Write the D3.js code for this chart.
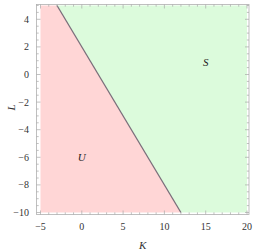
<!DOCTYPE html>
<html><head><meta charset="utf-8">
<script src="https://cdn.jsdelivr.net/npm/d3@7"></script>
<style>html,body{margin:0;padding:0;background:#fff;}svg{display:block;}</style>
</head><body>
<script>
const xDomain = [-5, 20];
const yDomain = [-10, 5];
const xTicks = [-5, 0, 5, 10, 15, 20];
const yTicks = [-10, -8, -6, -4, -2, 0, 2, 4];
// boundary line L = 2 - K
const boundaryK = [-3, 12];
const boundaryL = [5, -10];
const regionNames = ["U", "S"];
const regionLabelK = [0, 15];
const regionLabelL = [-6, 0.9];
const axisTitles = ["K", "L"];

const W = 253, H = 251;
const svg = d3.select("body").append("svg").attr("width", W).attr("height", H);
const x = d3.scaleLinear().domain(xDomain).range([40.5, 247]);
const y = d3.scaleLinear().domain(yDomain).range([212.5, 5.5]);
const frame = {l: 36.5, r: 249, t: 4.5, b: 214.5};

const font = "'Liberation Serif','DejaVu Serif',serif";

// regions
const uPoly = [[xDomain[0], yDomain[1]], [boundaryK[0], boundaryL[0]], [boundaryK[1], boundaryL[1]], [xDomain[0], yDomain[0]]];
const sPoly = [[boundaryK[0], boundaryL[0]], [xDomain[1], yDomain[1]], [xDomain[1], yDomain[0]], [boundaryK[1], boundaryL[1]]];
const line = d3.line().x(d => x(d[0])).y(d => y(d[1]));
svg.append("path").attr("d", line(uPoly) + "Z").attr("fill", "#ffd6d6");
svg.append("path").attr("d", line(sPoly) + "Z").attr("fill", "#dcfbdc");
svg.append("path").attr("d", line(boundaryK.map((k, i) => [k, boundaryL[i]])))
  .attr("stroke", "#7a6e7a").attr("stroke-width", 1.3).attr("fill", "none");

// frame
svg.append("rect").attr("x", frame.l).attr("y", frame.t)
  .attr("width", frame.r - frame.l).attr("height", frame.b - frame.t)
  .attr("fill", "none").attr("stroke", "#b0b0b0").attr("stroke-width", 0.8);

const tickCol = "#a8a8a8";
const g = svg.append("g").attr("stroke", tickCol).attr("stroke-width", 0.7);
// x ticks
const xMinor = d3.range(xDomain[0], xDomain[1] + 0.01, 1);
xMinor.forEach(v => {
  const major = xTicks.includes(v);
  const len = major ? 4 : 2.2;
  const px = x(v);
  g.append("line").attr("x1", px).attr("x2", px).attr("y1", frame.b).attr("y2", frame.b - len);
  g.append("line").attr("x1", px).attr("x2", px).attr("y1", frame.t).attr("y2", frame.t + len);
});
const yMinor = d3.range(yDomain[0], yDomain[1] + 0.01, 0.5);
yMinor.forEach(v => {
  const major = yTicks.includes(v);
  const len = major ? 4 : 2.2;
  const py = y(v);
  g.append("line").attr("y1", py).attr("y2", py).attr("x1", frame.l).attr("x2", frame.l + len);
  g.append("line").attr("y1", py).attr("y2", py).attr("x1", frame.r).attr("x2", frame.r - len);
});

const fmt = v => (v < 0 ? "\u2212" + Math.abs(v) : String(v));
svg.append("g").selectAll("text").data(xTicks).join("text")
  .attr("x", d => x(d)).attr("y", 230).attr("text-anchor", "middle")
  .attr("font-family", font).attr("font-size", 10).attr("fill", "#333").text(fmt);
svg.append("g").selectAll("text").data(yTicks).join("text")
  .attr("x", 29).attr("y", d => y(d) + 3.5).attr("text-anchor", "end")
  .attr("font-family", font).attr("font-size", 10).attr("fill", "#333").text(fmt);

// region labels
svg.append("g").selectAll("text").data(regionNames).join("text")
  .attr("x", (d, i) => x(regionLabelK[i])).attr("y", (d, i) => y(regionLabelL[i]) + 4)
  .attr("text-anchor", "middle").attr("font-family", font).attr("font-style", "italic")
  .attr("font-size", 11).attr("fill", "#222").text(d => d);

// axis titles
svg.append("text").attr("x", (frame.l + frame.r) / 2).attr("y", 249)
  .attr("text-anchor", "middle").attr("font-family", font).attr("font-style", "italic")
  .attr("font-size", 11).attr("fill", "#333").text(axisTitles[0]);
svg.append("text").attr("transform", `translate(11,${(frame.t + frame.b) / 2 - 2}) rotate(-90)`)
  .attr("text-anchor", "middle").attr("dy", "0.35em").attr("font-family", font).attr("font-style", "italic")
  .attr("font-size", 11).attr("fill", "#333").text(axisTitles[1]);
</script>
</body></html>
